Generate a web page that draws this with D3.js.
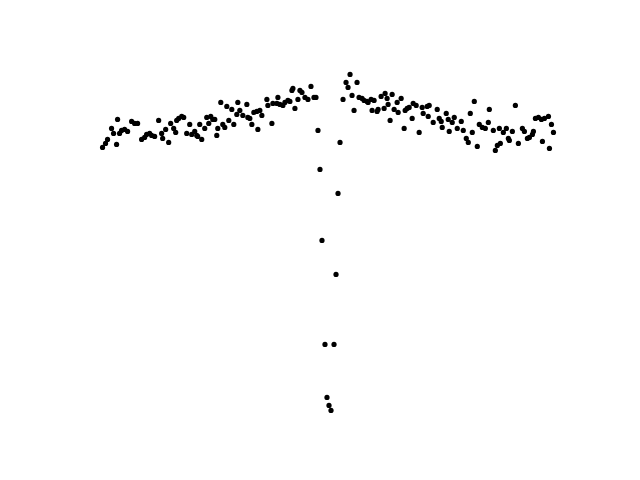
<!DOCTYPE html>
<html>
<head>
<meta charset="utf-8">
<script src="https://cdn.jsdelivr.net/npm/d3@7"></script>
<style>
  html, body { margin: 0; padding: 0; background: #ffffff; }
  svg { display: block; }
</style>
</head>
<body>
<script>
const xVals = [
  -225,-222,-220,-216,-214,-211,-210,-208,-206,-203,-200,-196,-193,-190,-186,-183,-181,-178,-176,-173,
  -169,-166,-165,-162,-159,-157,-154,-152,-151,-149,-146,-144,-141,-138,-136,-133,-131,-130,-128,-126,
  -123,-121,-119,-117,-115,-113,-111,-110,-107,-105,-103,-101,-99,-96,-94,-91,-90,-88,-85,-81,
  -80,-78,-76,-74,-71,-70,-68,-66,-61,-60,-56,-55,-51,-50,-48,-45,-43,-40,-38,-36,
  -35,-33,-30,-28,-26,-23,-20,-17,-14,-12,-10,-8,-6,-3,-1,1,3,6,8,10,
  12,15,18,20,22,24,26,29,31,34,36,39,40,43,44,46,49,50,53,56,
  57,59,60,62,64,66,69,70,73,76,77,79,81,84,85,88,91,94,95,99,
  100,101,105,109,111,113,114,118,120,121,124,126,129,133,135,138,140,142,144,146,
  149,151,154,157,160,161,165,167,169,171,172,175,178,180,181,184,187,190,194,196,
  199,201,204,205,207,210,213,214,216,220,221,223,225
];
const yVals = [
  273,277,281,292,287,276,301,287,290,291,289,299,297,297,281,283,286,287,285,284,
  300,287,282,291,278,297,292,288,300,302,304,303,287,296,286,289,285,284,296,281,
  292,303,297,304,301,301,285,292,318,296,293,314,300,311,296,306,318,310,305,316,
  303,302,296,308,309,291,310,305,321,315,297,317,317,323,316,315,318,320,319,330,
  332,312,321,330,328,323,321,334,323,323,290,251,180,76,23,15,10,76,146,227,
  278,321,338,333,346,325,310,338,323,322,320,319,318,321,310,320,309,311,324,312,
  327,322,316,300,326,311,318,308,322,292,310,312,313,302,317,315,288,313,307,314,
  304,315,298,311,302,299,293,307,301,289,298,303,292,299,290,282,278,307,288,319,
  274,296,293,292,298,311,290,270,275,292,277,288,292,282,280,289,315,277,292,289,
  282,283,286,289,302,303,301,279,302,304,272,296,288
];

(function () {
  const W = 640, H = 480;
  // Axes box like a default figure layout
  const axLeft = 80, axRight = 576, axTop = 57.6, axBottom = 427.2;

  function padded(vals) {
    const [a, b] = d3.extent(vals);
    const p = (b - a) * 0.05;
    return [a - p, b + p];
  }

  const x = d3.scaleLinear().domain(padded(xVals)).range([axLeft, axRight]);
  const y = d3.scaleLinear().domain(padded(yVals)).range([axBottom, axTop]);

  const svg = d3.select("body").append("svg")
    .attr("width", W).attr("height", H)
    .style("background", "#ffffff");

  svg.append("rect").attr("width", W).attr("height", H).attr("fill", "#ffffff");

  const data = xVals.map((v, i) => ({ x: v, y: yVals[i] }));

  svg.append("g")
    .selectAll("circle")
    .data(data)
    .join("circle")
    .attr("cx", d => x(d.x))
    .attr("cy", d => y(d.y))
    .attr("r", 2.6)
    .attr("fill", "#000000");
})();
</script>
</body>
</html>
